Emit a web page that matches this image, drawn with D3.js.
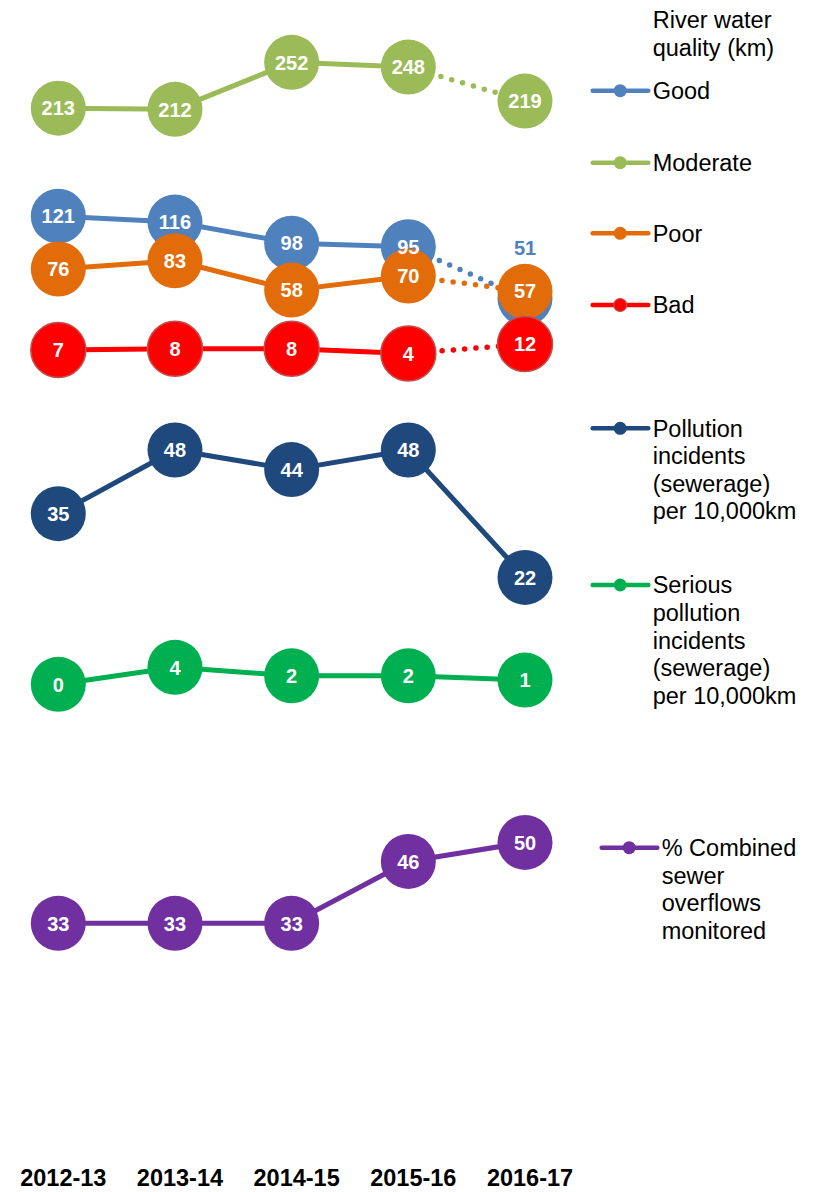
<!DOCTYPE html>
<html>
<head>
<meta charset="utf-8">
<script src="https://cdn.jsdelivr.net/npm/d3@7"></script>
<style>
  html, body { margin: 0; padding: 0; background: #fff; }
  svg { display: block; font-family: Arial, "Liberation Sans", sans-serif; }
</style>
</head>
<body>
<svg id="chart" width="821" height="1192"></svg>
<script>
// Reporting years
const years = ["2012-13", "2013-14", "2014-15", "2015-16", "2016-17"];

// River water quality (km)
const good     = [121, 116, 98, 95, 51];
const moderate = [213, 212, 252, 248, 219];
const poor     = [76, 83, 58, 70, 57];
const bad      = [7, 8, 8, 4, 12];

// Pollution incidents (sewerage) per 10,000km
const pollution = [35, 48, 44, 48, 22];
// Serious pollution incidents (sewerage) per 10,000km
const serious   = [0, 4, 2, 2, 1];
// % Combined sewer overflows monitored
const combined  = [33, 33, 33, 46, 50];

const svg = d3.select("#chart");

const x = d3.scalePoint().domain(years).range([58.3, 525]);

// Each panel has its own vertical scale
const yRiver     = d3.scaleLinear().domain([0, 250]).range([358.2, 64.7]);
const yPollution = d3.scaleLinear().domain([0, 50]).range([685.2, 440.2]);
const ySerious   = d3.scaleLinear().domain([0, 4]).range([684.3, 667.3]);
const yCombined  = d3.scaleLinear().domain([0, 50]).range([1080.4, 842.4]);

const R = 27.5;

const series = [
  { values: good,      y: yRiver,     color: "#4F81BD", dottedLast: true,  labelAboveLast: true },
  { values: moderate,  y: yRiver,     color: "#9BBB59", dottedLast: true },
  { values: poor,      y: yRiver,     color: "#E36C0A", dottedLast: true },
  { values: bad,       y: yRiver,     color: "#FF0000", stroke: "#C0504D", dottedLast: true },
  { values: pollution, y: yPollution, color: "#1F497D" },
  { values: serious,   y: ySerious,   color: "#00B050" },
  { values: combined,  y: yCombined,  color: "#7030A0" }
];

const markLayer = svg.append("g");
const labelLayer = svg.append("g");

series.forEach(s => {
  const pts = s.values.map((v, i) => ({ year: years[i], v }));
  const g = markLayer.append("g");
  const line = d3.line().x(d => x(d.year)).y(d => s.y(d.v));
  const n = pts.length;
  const solid = s.dottedLast ? pts.slice(0, n - 1) : pts;

  g.append("path")
    .attr("d", line(solid))
    .attr("fill", "none")
    .attr("stroke", s.color)
    .attr("stroke-width", 5)
    .attr("stroke-linejoin", "round");

  if (s.dottedLast) {
    g.append("path")
      .attr("d", line(pts.slice(n - 2)))
      .attr("fill", "none")
      .attr("stroke", s.color)
      .attr("stroke-width", 5.5)
      .attr("stroke-linecap", "round")
      .attr("stroke-dasharray", "0 11.3");
  }

  g.selectAll("circle")
    .data(pts)
    .join("circle")
    .attr("cx", d => x(d.year))
    .attr("cy", d => s.y(d.v))
    .attr("r", R)
    .attr("fill", s.color)
    .attr("stroke", s.stroke || "none")
    .attr("stroke-width", s.stroke ? 1.5 : 0);

  // value labels sit above every marker
  labelLayer.append("g")
    .selectAll("text")
    .data(pts)
    .join("text")
    .attr("x", d => x(d.year))
    .attr("y", (d, i) => (s.labelAboveLast && i === n - 1) ? s.y(d.v) - 51 : s.y(d.v))
    .attr("dy", "0.36em")
    .attr("text-anchor", "middle")
    .attr("font-size", 20)
    .attr("font-weight", "bold")
    .attr("fill", (d, i) => (s.labelAboveLast && i === n - 1) ? s.color : "#fff")
    .text(d => d.v);
});

// Year labels along the bottom
svg.append("g")
  .selectAll("text")
  .data(years)
  .join("text")
  .attr("x", d => x(d) + 5)
  .attr("y", 1186)
  .attr("text-anchor", "middle")
  .attr("font-size", 23.5)
  .attr("font-weight", "bold")
  .attr("fill", "#000")
  .text(d => d);

// Legend
const legendFont = 23.5;
const lineH = 27.6;
const legendItems = [
  { lines: ["Good"], color: "#4F81BD", y: 90.7, x0: 592.7 },
  { lines: ["Moderate"], color: "#9BBB59", y: 162.7, x0: 592.7 },
  { lines: ["Poor"], color: "#E36C0A", y: 233.3, x0: 592.7 },
  { lines: ["Bad"], color: "#FF0000", stroke: "#C0504D", y: 305, x0: 592.7 },
  { lines: ["Pollution", "incidents", "(sewerage)", "per 10,000km"], color: "#1F497D", y: 428.3, x0: 592.7 },
  { lines: ["Serious", "pollution", "incidents", "(sewerage)", "per 10,000km"], color: "#00B050", y: 585, x0: 592.7 },
  { lines: ["% Combined", "sewer", "overflows", "monitored"], color: "#7030A0", y: 847.7, x0: 601.7 }
];

const legend = svg.append("g");

legend.append("text")
  .attr("font-size", legendFont)
  .attr("fill", "#000")
  .selectAll("tspan")
  .data(["River water", "quality (km)"])
  .join("tspan")
  .attr("x", 652.7)
  .attr("y", (d, i) => 28.3 + i * lineH)
  .text(d => d);

legendItems.forEach(it => {
  const lg = legend.append("g");
  lg.append("line")
    .attr("x1", it.x0).attr("x2", it.x0 + 55.6)
    .attr("y1", it.y).attr("y2", it.y)
    .attr("stroke", it.color)
    .attr("stroke-width", 4.5)
    .attr("stroke-linecap", "round");
  lg.append("circle")
    .attr("cx", it.x0 + 27.5)
    .attr("cy", it.y)
    .attr("r", 6.5)
    .attr("fill", it.color)
    .attr("stroke", it.stroke || "none")
    .attr("stroke-width", it.stroke ? 1.2 : 0);
  lg.append("text")
    .attr("font-size", legendFont)
    .attr("fill", "#000")
    .selectAll("tspan")
    .data(it.lines)
    .join("tspan")
    .attr("x", it.x0 + 60)
    .attr("y", (d, i) => it.y + 8.3 + i * lineH)
    .text(d => d);
});
</script>
</body>
</html>
